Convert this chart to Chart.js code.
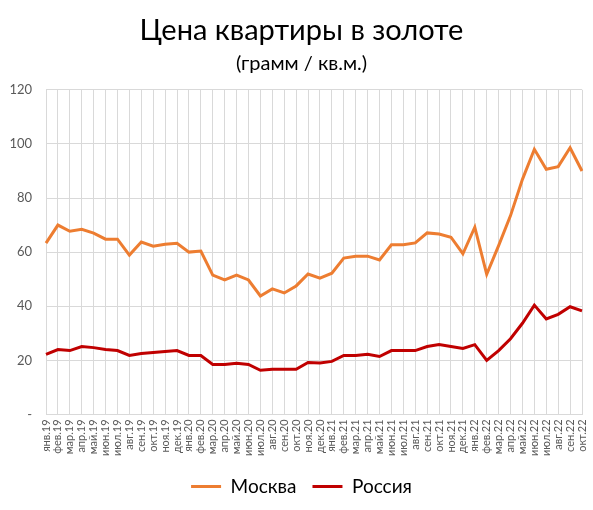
<!DOCTYPE html>
<html>
<head>
<meta charset="utf-8">
<script src="https://cdn.jsdelivr.net/npm/chart.js@4/dist/chart.umd.min.js"></script>
<style>
  html, body { margin: 0; padding: 0; background: #fff; }
  #wrap { width: 593px; height: 510px; }
</style>
</head>
<body>
<div id="wrap"><canvas id="line-chart"></canvas></div>
<script>
// месяцы янв.19 - окт.22
const months = [
  'янв.19','фев.19','мар.19','апр.19','май.19','июн.19','июл.19','авг.19','сен.19','окт.19','ноя.19','дек.19',
  'янв.20','фев.20','мар.20','апр.20','май.20','июн.20','июл.20','авг.20','сен.20','окт.20','ноя.20','дек.20',
  'янв.21','фев.21','мар.21','апр.21','май.21','июн.21','июл.21','авг.21','сен.21','окт.21','ноя.21','дек.21',
  'янв.22','фев.22','мар.22','апр.22','май.22','июн.22','июл.22','авг.22','сен.22','окт.22'
];

// грамм золота за кв.м.
const moscow = [
  63.3, 70.0, 67.7, 68.4, 67.0, 64.8, 64.8, 58.9, 63.7, 62.2, 62.9, 63.3,
  60.0, 60.4, 51.5, 49.7, 51.5, 49.7, 43.8, 46.4, 44.9, 47.5, 51.9, 50.4,
  52.2, 57.8, 58.5, 58.5, 57.1, 62.7, 62.7, 63.4, 67.1, 66.7, 65.5, 59.4,
  69.2, 51.8, 62.4, 73.5, 86.9, 98.0, 90.6, 91.6, 98.6, 90.0
];

const russia = [
  22.2, 24.0, 23.6, 25.1, 24.7, 24.0, 23.6, 21.8, 22.5, 22.9, 23.3, 23.6,
  21.8, 21.8, 18.5, 18.5, 18.9, 18.5, 16.3, 16.7, 16.7, 16.7, 19.2, 19.0,
  19.6, 21.8, 21.8, 22.2, 21.4, 23.6, 23.6, 23.6, 25.1, 25.8, 25.1, 24.4,
  25.8, 20.0, 23.6, 28.0, 33.7, 40.4, 35.3, 37.0, 39.8, 38.3
];

const yTicks = [0, 20, 40, 60, 80, 100, 120];

const fontName = 'Lato, "Open Sans", sans-serif';

new Chart(document.getElementById('line-chart'), {
    type: 'line',
    data: {
        labels: months,
        datasets: [
            {
                label: 'Москва',
                data: moscow,
                borderColor: '#ED7D31',
                backgroundColor: '#ED7D31',
                borderWidth: 3,
                pointRadius: 0,
                tension: 0
            },
            {
                label: 'Россия',
                data: russia,
                borderColor: '#C00000',
                backgroundColor: '#C00000',
                borderWidth: 3,
                pointRadius: 0,
                tension: 0
            }
        ]
    },
    options: {
        responsive: true,
        maintainAspectRatio: false,
        animation: false,
        layout: { padding: { left: 10, right: 0, top: 4, bottom: 4 } },
        plugins: {
            title: {
                display: true,
                text: 'Цена квартиры в золоте',
                color: '#000',
                font: { family: fontName, size: 29, weight: 'normal' },
                padding: { top: 9, bottom: 4 }
            },
            subtitle: {
                display: true,
                text: '(грамм / кв.м.)',
                color: '#000',
                font: { family: fontName, size: 20, weight: 'normal' },
                padding: { bottom: 14 }
            },
            legend: {
                position: 'bottom',
                labels: {
                    color: '#000',
                    font: { family: fontName, size: 19 },
                    usePointStyle: true,
                    pointStyle: 'line',
                    pointStyleWidth: 30,
                    padding: 16
                }
            },
            tooltip: { enabled: false }
        },
        scales: {
            x: {
                offset: false,
                // отступ справа под последнюю подпись задаем сами
                afterFit: axis => { axis.paddingRight = 11; },
                grid: { color: '#d9d9d9', drawTicks: false },
                border: { color: '#d9d9d9' },
                ticks: {
                    color: '#595959',
                    font: { family: fontName, size: 11 },
                    autoSkip: false,
                    minRotation: 90,
                    maxRotation: 90,
                    padding: 5
                }
            },
            y: {
                min: 0,
                max: 120,
                afterBuildTicks: axis => { axis.ticks = yTicks.map(v => ({ value: v })); },
                afterFit: axis => { axis.width = 36; },
                grid: { color: '#d9d9d9', drawTicks: false },
                border: { display: false },
                ticks: {
                    color: '#595959',
                    font: { family: fontName, size: 13 },
                    padding: 14,
                    callback: v => v === 0 ? '-' : v
                }
            }
        }
    }
});
</script>
</body>
</html>
